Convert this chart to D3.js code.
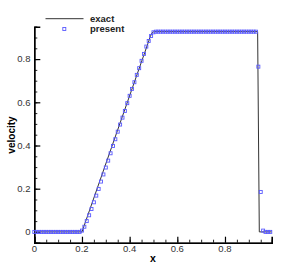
<!DOCTYPE html>
<html lang="en">
<head>
    <meta charset="UTF-8">
    <script src="https://cdnjs.cloudflare.com/ajax/libs/d3/7.8.5/d3.min.js"></script>
    <title>velocity</title>
    <style>
        body { margin: 0; background: #fff; }
        text { font-family: "Liberation Sans", Arial, sans-serif; }
    </style>
</head>
<body>
<div id="plot"></div>
<script>
    // exact solution (polyline)
    var exactX = [0, 0.2, 0.487, 0.494, 0.502, 0.937, 0.944, 0.996];
    var exactV = [0, 0, 0.905, 0.922, 0.927, 0.927, 0, 0];

    // numerical solution points
    var presentX = [
        0.00, 0.01, 0.02, 0.03, 0.04, 0.05, 0.06, 0.07, 0.08, 0.09,
        0.10, 0.11, 0.12, 0.13, 0.14, 0.15, 0.16, 0.17, 0.18, 0.19,
        0.20, 0.21, 0.22, 0.23, 0.24, 0.25, 0.26, 0.27, 0.28, 0.29,
        0.30, 0.31, 0.32, 0.33, 0.34, 0.35, 0.36, 0.37, 0.38, 0.39,
        0.40, 0.41, 0.42, 0.43, 0.44, 0.45, 0.46, 0.47, 0.48, 0.49,
        0.50, 0.51, 0.52, 0.53, 0.54, 0.55, 0.56, 0.57, 0.58, 0.59,
        0.60, 0.61, 0.62, 0.63, 0.64, 0.65, 0.66, 0.67, 0.68, 0.69,
        0.70, 0.71, 0.72, 0.73, 0.74, 0.75, 0.76, 0.77, 0.78, 0.79,
        0.80, 0.81, 0.82, 0.83, 0.84, 0.85, 0.86, 0.87, 0.88, 0.89,
        0.90, 0.91, 0.92, 0.93, 0.94, 0.95, 0.96, 0.97, 0.98, 0.99
    ];
    var presentV = [
        0, 0, 0, 0, 0, 0, 0, 0, 0, 0,
        0, 0, 0, 0, 0, 0, 0, 0, 0, 0,
        0.006, 0.024, 0.050, 0.077, 0.106, 0.137, 0.168, 0.199, 0.233, 0.266,
        0.298, 0.330, 0.364, 0.398, 0.429, 0.464, 0.497, 0.529, 0.560, 0.596,
        0.630, 0.662, 0.693, 0.727, 0.758, 0.792, 0.824, 0.858, 0.884, 0.907,
        0.924, 0.927, 0.927, 0.927, 0.927, 0.927, 0.927, 0.927, 0.927, 0.927,
        0.927, 0.927, 0.927, 0.927, 0.927, 0.927, 0.927, 0.927, 0.927, 0.927,
        0.927, 0.927, 0.927, 0.927, 0.927, 0.927, 0.927, 0.927, 0.927, 0.927,
        0.927, 0.927, 0.927, 0.927, 0.927, 0.927, 0.927, 0.927, 0.927, 0.927,
        0.927, 0.927, 0.927, 0.927, 0.765, 0.185, 0.006, 0, 0, 0
    ];

    var xTicks = [0, 0.2, 0.4, 0.6, 0.8];
    var yTicks = [0, 0.2, 0.4, 0.6, 0.8];
    var legendLabels = ["exact", "present"];

    var W = 303, H = 268;
    var blue = "#5a5aff";

    var svg = d3.select("#plot").append("svg")
        .attr("width", W).attr("height", H);

    var x = d3.scaleLinear().domain([0, 0.996]).range([34.3, 271.7]);
    var y = d3.scaleLinear().domain([-0.05, 0.95]).range([242.7, 26.7]);

    // minor ticks every 0.05
    var xMinor = d3.range(0, 0.996, 0.05);
    var yMinor = d3.range(-0.05, 0.951, 0.05);

    // x axis (ticks pointing inward)
    var gx = svg.append("g").attr("transform", "translate(0," + y.range()[0] + ")");
    gx.call(d3.axisTop(x).tickValues(xMinor).tickSize(3).tickFormat(""));
    gx.call(g => g.selectAll(".tick line").attr("stroke", "#222"));
    var gx2 = svg.append("g").attr("transform", "translate(0," + y.range()[0] + ")");
    gx2.call(d3.axisTop(x).tickValues(xTicks).tickSize(6).tickFormat(""));
    gx2.select(".domain").attr("stroke", "#000").attr("stroke-width", 1.6);
    gx2.selectAll(".tick line").attr("stroke", "#000").attr("stroke-width", 1.2);
    svg.append("g").selectAll("text").data(xTicks).enter().append("text")
        .attr("x", d => x(d)).attr("y", 252)
        .attr("text-anchor", "middle")
        .attr("font-size", 9.5).attr("fill", "#333")
        .text(d => d3.format("")(d));

    // y axis
    var gy = svg.append("g").attr("transform", "translate(" + x.range()[0] + ",0)");
    gy.call(d3.axisRight(y).tickValues(yMinor).tickSize(3).tickFormat(""));
    gy.selectAll(".tick line").attr("stroke", "#222");
    var gy2 = svg.append("g").attr("transform", "translate(" + x.range()[0] + ",0)");
    gy2.call(d3.axisRight(y).tickValues(yTicks).tickSize(6).tickFormat(""));
    gy2.select(".domain").attr("stroke", "#000").attr("stroke-width", 1.6);
    gy2.selectAll(".tick line").attr("stroke", "#000").attr("stroke-width", 1.2);
    svg.append("g").selectAll("text").data(yTicks).enter().append("text")
        .attr("x", 30.5).attr("y", d => y(d) + 3.3)
        .attr("text-anchor", "end")
        .attr("font-size", 9.5).attr("fill", "#333")
        .text(d => d3.format("")(d));

    // axis titles
    svg.append("text").attr("x", 153).attr("y", 262)
        .attr("text-anchor", "middle").attr("font-size", 10.5).attr("font-weight", "bold")
        .text("x");
    svg.append("text")
        .attr("transform", "translate(14.5,135) rotate(-90)")
        .attr("text-anchor", "middle").attr("font-size", 10).attr("font-weight", "bold")
        .text("velocity");

    // exact line
    var exactData = exactX.map((d, i) => [d, exactV[i]]);
    svg.append("path").datum(exactData)
        .attr("fill", "none").attr("stroke", "#333").attr("stroke-width", 1)
        .attr("d", d3.line().x(d => x(d[0])).y(d => y(d[1])));

    // present points (open squares)
    var pts = presentX.map((d, i) => [d, presentV[i]]);
    svg.append("g").selectAll("rect").data(pts).enter().append("rect")
        .attr("x", d => x(d[0]) - 1.5).attr("y", d => y(d[1]) - 1.5)
        .attr("width", 3).attr("height", 3)
        .attr("fill", "none").attr("stroke", blue).attr("stroke-width", 0.9);

    // legend
    svg.append("line").attr("x1", 45.5).attr("x2", 83.5).attr("y1", 18.7).attr("y2", 18.7)
        .attr("stroke", "#333").attr("stroke-width", 1);
    svg.append("rect").attr("x", 62.8).attr("y", 27.5).attr("width", 3).attr("height", 3)
        .attr("fill", "none").attr("stroke", blue).attr("stroke-width", 0.9);
    svg.append("g").selectAll("text").data(legendLabels).enter().append("text")
        .attr("x", 90).attr("y", (d, i) => 22 + i * 10.3)
        .attr("font-size", 9.5).attr("font-weight", "bold").attr("fill", "#222")
        .text(d => d);
</script>
</body>
</html>
